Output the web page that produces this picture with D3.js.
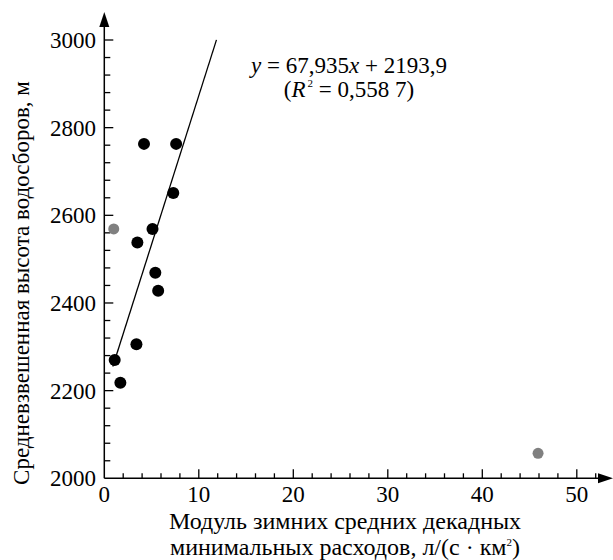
<!DOCTYPE html>
<html>
<head>
<meta charset="utf-8">
<script src="https://cdn.jsdelivr.net/npm/d3@7"></script>
<style>
  body { margin: 0; background: #fff; }
</style>
</head>
<body>
<div id="chart"></div>
<script>
// Basins used in the regression (black points)
const modulus = [1.1, 1.7, 3.4, 5.7, 4.2, 7.6, 7.3, 5.1, 3.5, 5.4];
const elevation = [2270, 2218, 2306, 2428, 2763, 2763, 2651, 2569, 2538, 2469];

// Excluded basins (grey points)
const outModulus = [1.0, 45.9];
const outElevation = [2569, 2057];

// Regression y = a*x + b
const slope = 67.935;
const intercept = 2193.9;
const fitRange = [0.9, 11.87];

const xTicks = [0, 10, 20, 30, 40, 50];
const yTicks = [2000, 2200, 2400, 2600, 2800, 3000];

const width = 613, height = 560;

const svg = d3.select("#chart").append("svg")
    .attr("width", width)
    .attr("height", height)
    .attr("viewBox", [0, 0, width, height])
    .attr("font-family", "'Liberation Serif', 'DejaVu Serif', serif");

const x = d3.scaleLinear().domain([0, 50]).range([104.3, 576.8]);
const y = d3.scaleLinear().domain([2000, 3000]).range([478.3, 40]);

// minor ticks (inside)
svg.append("g")
    .attr("stroke", "#000")
    .attr("stroke-width", 1.3)
    .selectAll("line")
    .data(d3.range(0, 54, 2).filter(v => v % 10 !== 0))
    .join("line")
    .attr("x1", d => x(d)).attr("x2", d => x(d))
    .attr("y1", y(2000)).attr("y2", y(2000) - 5);

svg.append("g")
    .attr("stroke", "#000")
    .attr("stroke-width", 1.3)
    .selectAll("line")
    .data(xTicks.filter(v => v > 0))
    .join("line")
    .attr("x1", d => x(d)).attr("x2", d => x(d))
    .attr("y1", y(2000)).attr("y2", y(2000) - 9);

svg.append("g")
    .attr("stroke", "#000")
    .attr("stroke-width", 1.3)
    .selectAll("line")
    .data(d3.range(2040, 3001, 40).filter(v => v % 200 !== 0))
    .join("line")
    .attr("x1", x(0)).attr("x2", x(0) + 6)
    .attr("y1", d => y(d)).attr("y2", d => y(d));

svg.append("g")
    .attr("stroke", "#000")
    .attr("stroke-width", 1.3)
    .selectAll("line")
    .data(yTicks.filter(v => v > 2000))
    .join("line")
    .attr("x1", x(0)).attr("x2", x(0) + 9)
    .attr("y1", d => y(d)).attr("y2", d => y(d));

// axis lines with arrows
svg.append("line")
    .attr("x1", x(0)).attr("x2", 603)
    .attr("y1", y(2000)).attr("y2", y(2000))
    .attr("stroke", "#000").attr("stroke-width", 1.5);
svg.append("path")
    .attr("d", `M613,${y(2000)} L598,${y(2000) - 5} L598,${y(2000) + 5} Z`)
    .attr("fill", "#000");

svg.append("line")
    .attr("x1", x(0)).attr("x2", x(0))
    .attr("y1", y(2000)).attr("y2", 24)
    .attr("stroke", "#000").attr("stroke-width", 1.5);
svg.append("path")
    .attr("d", `M${x(0)},12 L${x(0) - 5},27 L${x(0) + 5},27 Z`)
    .attr("fill", "#000");

// tick labels
svg.append("g")
    .attr("font-size", 23)
    .attr("text-anchor", "middle")
    .selectAll("text")
    .data(xTicks)
    .join("text")
    .attr("x", d => x(d))
    .attr("y", 502)
    .text(d => d);

svg.append("g")
    .attr("font-size", 23)
    .attr("text-anchor", "end")
    .selectAll("text")
    .data(yTicks)
    .join("text")
    .attr("x", 96)
    .attr("y", d => y(d) + 8)
    .text(d => d);

// regression line
svg.append("line")
    .attr("x1", x(fitRange[0])).attr("y1", y(slope * fitRange[0] + intercept))
    .attr("x2", x(fitRange[1])).attr("y2", y(slope * fitRange[1] + intercept))
    .attr("stroke", "#000").attr("stroke-width", 1.3);

// points
svg.append("g")
    .attr("fill", "#000")
    .selectAll("circle")
    .data(modulus.map((m, i) => [m, elevation[i]]))
    .join("circle")
    .attr("cx", d => x(d[0]))
    .attr("cy", d => y(d[1]))
    .attr("r", 6);

svg.append("g")
    .attr("fill", "#808080")
    .selectAll("circle")
    .data(outModulus.map((m, i) => [m, outElevation[i]]))
    .join("circle")
    .attr("cx", d => x(d[0]))
    .attr("cy", d => y(d[1]))
    .attr("r", 5.5);

// equation
const eq = svg.append("text")
    .attr("x", 349).attr("y", 73)
    .attr("text-anchor", "middle")
    .attr("font-size", 23);
eq.append("tspan").attr("font-style", "italic").text("y");
eq.append("tspan").text(" = 67,935");
eq.append("tspan").attr("font-style", "italic").text("x");
eq.append("tspan").text(" + 2193,9");

const r2 = svg.append("text")
    .attr("x", 349).attr("y", 97)
    .attr("text-anchor", "middle")
    .attr("font-size", 23);
r2.append("tspan").text("(");
r2.append("tspan").attr("font-style", "italic").text("R");
r2.append("tspan").attr("dx", 2).attr("dy", -10).attr("font-size", 11).text("2");
r2.append("tspan").attr("dy", 10).text(" = 0,558 7)");

// axis titles
svg.append("text")
    .attr("x", 345).attr("y", 529)
    .attr("text-anchor", "middle")
    .attr("font-size", 24)
    .text("Модуль зимних средних декадных");

const xt2 = svg.append("text")
    .attr("x", 345).attr("y", 555)
    .attr("text-anchor", "middle")
    .attr("font-size", 24);
xt2.append("tspan").text("минимальных расходов, л/(с · км");
xt2.append("tspan").attr("dy", -9).attr("font-size", 11).text("2");
xt2.append("tspan").attr("dy", 9).text(")");

svg.append("text")
    .attr("transform", "translate(29,283) rotate(-90)")
    .attr("text-anchor", "middle")
    .attr("font-size", 23)
    .text("Средневзвешенная высота водосборов, м");
</script>
</body>
</html>
